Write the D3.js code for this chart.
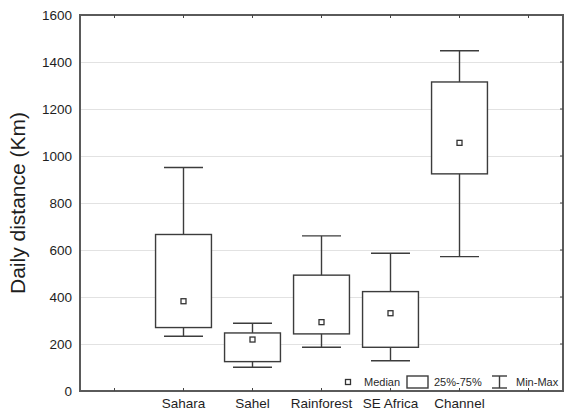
<!DOCTYPE html>
<html>
<head>
<meta charset="utf-8">
<style>
  body { margin: 0; background: #fff; }
  svg { display: block; font-family: "Liberation Sans", Arial, sans-serif; }
  .grid line { stroke: #e2e2e2; stroke-width: 1; }
  .grid path { display: none; }
  .frame { fill: none; stroke: #5a5a5a; stroke-width: 2; }
  .box, .whisker { fill: #fff; stroke: #3c3c3c; stroke-width: 1.4; }
  .whisker { fill: none; }
  .median { fill: #fff; stroke: #333; stroke-width: 1.3; }
</style>
</head>
<body>
<svg width="564" height="411"></svg>
<script src="https://d3js.org/d3.v7.min.js"></script>
<script>
// slots on the x axis; first and last are empty
var categories = ["", "Sahara", "Sahel", "Rainforest", "SE Africa", "Channel", ""];
var groups = ["Sahara", "Sahel", "Rainforest", "SE Africa", "Channel"];
var minVals    = [233, 101, 186, 129, 572];
var q1Vals     = [270, 125, 243, 186, 924];
var medianVals = [382, 219, 293, 331, 1056];
var q3Vals     = [666, 247, 493, 423, 1315];
var maxVals    = [951, 288, 660, 586, 1448];
var yTicks = [0, 200, 400, 600, 800, 1000, 1200, 1400, 1600];

var svg = d3.select("svg"),
    margin = {top: 15, right: 1, bottom: 20, left: 80},
    width = +svg.attr("width") - margin.left - margin.right,
    height = +svg.attr("height") - margin.top - margin.bottom,
    g = svg.append("g").attr("transform", "translate(" + margin.left + "," + margin.top + ")");

var x = d3.scaleBand().domain(d3.range(categories.length)).range([0, width]).padding(0);
var y = d3.scaleLinear().domain([0, 1600]).range([height, 0]);

var data = groups.map(function(name, i) {
  return {name: name, slot: categories.indexOf(name), min: minVals[i], q1: q1Vals[i],
          median: medianVals[i], q3: q3Vals[i], max: maxVals[i]};
});

// gridlines
g.append("g")
  .attr("class", "grid")
  .call(d3.axisLeft(y).tickValues(yTicks.slice(1, -1)).tickSize(-width).tickFormat(""));

// frame
g.append("rect").attr("class", "frame").attr("width", width).attr("height", height);

// inner ticks on bottom/top/right
var tickLen = 3;
g.append("g").selectAll("line").data(d3.range(categories.length)).enter().append("line")
  .attr("x1", function(d) { return x(d) + x.bandwidth() / 2; })
  .attr("x2", function(d) { return x(d) + x.bandwidth() / 2; })
  .attr("y1", height).attr("y2", height - tickLen)
  .attr("stroke", "#444");
g.append("g").selectAll("line").data(d3.range(categories.length)).enter().append("line")
  .attr("x1", function(d) { return x(d) + x.bandwidth() / 2; })
  .attr("x2", function(d) { return x(d) + x.bandwidth() / 2; })
  .attr("y1", 0).attr("y2", tickLen)
  .attr("stroke", "#444");
g.append("g").selectAll("line").data(yTicks.slice(1, -1)).enter().append("line")
  .attr("x1", width).attr("x2", width - tickLen)
  .attr("y1", function(d) { return y(d); })
  .attr("y2", function(d) { return y(d); })
  .attr("stroke", "#444");

// y tick labels
g.append("g").selectAll("text").data(yTicks).enter().append("text")
  .attr("x", -8)
  .attr("y", function(d) { return y(d); })
  .attr("dy", "0.35em")
  .attr("text-anchor", "end")
  .attr("font-size", 13.5)
  .attr("fill", "#1e1e1e")
  .text(function(d) { return d; });

// x labels
g.append("g").selectAll("text").data(categories).enter().append("text")
  .attr("x", function(d, i) { return x(i) + x.bandwidth() / 2; })
  .attr("y", height + 17)
  .attr("text-anchor", "middle")
  .attr("font-size", 13.5)
  .attr("fill", "#1e1e1e")
  .text(function(d) { return d; });

// y title
svg.append("text")
  .attr("transform", "translate(25," + (margin.top + height / 2) + ") rotate(-90)")
  .attr("text-anchor", "middle")
  .attr("font-size", 21)
  .attr("fill", "#1e1e1e")
  .text("Daily distance (Km)");

// boxes
var boxW = x.bandwidth() * 0.81,
    capW = x.bandwidth() * 0.565,
    medS = 5;

var box = g.append("g").selectAll("g").data(data).enter().append("g")
  .attr("transform", function(d) { return "translate(" + (x(d.slot) + x.bandwidth() / 2) + ",0)"; });

box.append("line").attr("class", "whisker")
  .attr("x1", 0).attr("x2", 0)
  .attr("y1", function(d) { return y(d.max); })
  .attr("y2", function(d) { return y(d.min); });
box.append("line").attr("class", "whisker")
  .attr("x1", -capW / 2).attr("x2", capW / 2)
  .attr("y1", function(d) { return y(d.max); })
  .attr("y2", function(d) { return y(d.max); });
box.append("line").attr("class", "whisker")
  .attr("x1", -capW / 2).attr("x2", capW / 2)
  .attr("y1", function(d) { return y(d.min); })
  .attr("y2", function(d) { return y(d.min); });
box.append("rect").attr("class", "box")
  .attr("x", -boxW / 2).attr("width", boxW)
  .attr("y", function(d) { return y(d.q3); })
  .attr("height", function(d) { return y(d.q1) - y(d.q3); });
box.append("rect").attr("class", "median")
  .attr("x", -medS / 2).attr("width", medS).attr("height", medS)
  .attr("y", function(d) { return y(d.median) - medS / 2; });

// legend
var lg = svg.append("g").attr("font-size", 11).attr("fill", "#2a2a2a");
var ly = 382;
lg.append("rect").attr("class", "median").attr("x", 345.5).attr("y", ly - 2.5).attr("width", 5).attr("height", 5);
lg.append("text").attr("x", 364).attr("y", ly).attr("dy", "0.35em").text("Median");
lg.append("rect").attr("class", "box").attr("x", 407).attr("y", ly - 6).attr("width", 21).attr("height", 12).attr("stroke-width", 1.2);
lg.append("text").attr("x", 434).attr("y", ly).attr("dy", "0.35em").text("25%-75%");
lg.append("line").attr("class", "whisker").attr("x1", 492).attr("x2", 507).attr("y1", ly - 6).attr("y2", ly - 6);
lg.append("line").attr("class", "whisker").attr("x1", 492).attr("x2", 507).attr("y1", ly + 6).attr("y2", ly + 6);
lg.append("line").attr("class", "whisker").attr("x1", 499.5).attr("x2", 499.5).attr("y1", ly - 6).attr("y2", ly + 6);
lg.append("text").attr("x", 516).attr("y", ly).attr("dy", "0.35em").text("Min-Max");
</script>
</body>
</html>
